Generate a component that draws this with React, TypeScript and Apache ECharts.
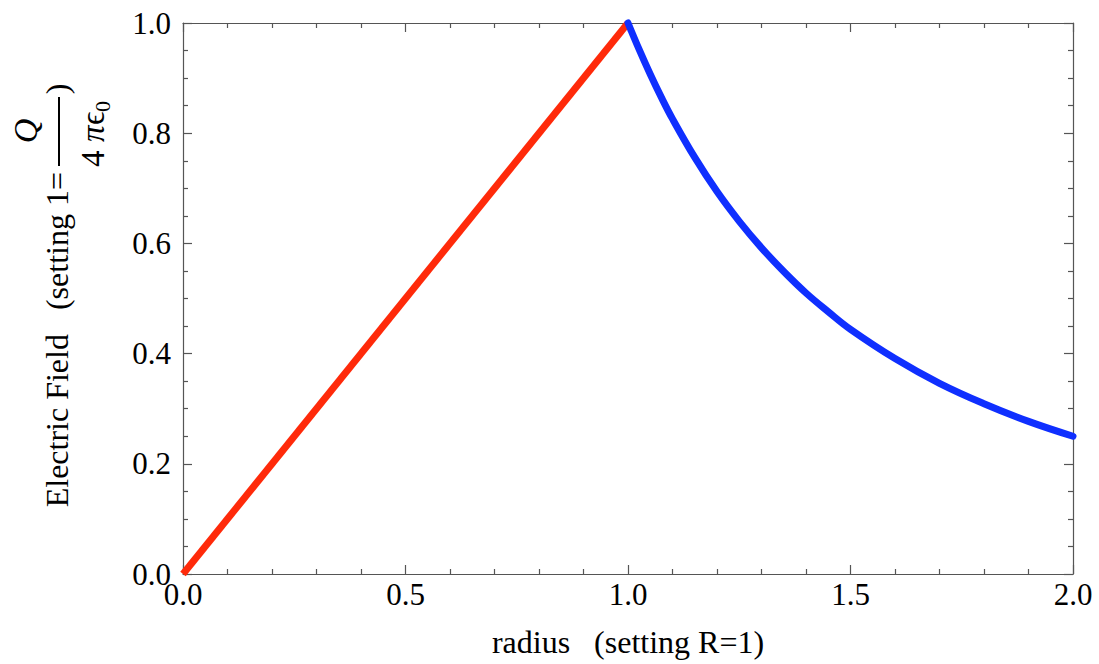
import React, { useEffect, useRef } from "react";
import * as echarts from "echarts";

const xTicks = [0, 0.5, 1.0, 1.5, 2.0];
const yTicks = [0, 0.2, 0.4, 0.6, 0.8, 1.0];
const insidePoints: [number, number][] = [
  [0, 0],
  [1, 1],
];
const outsidePoints: [number, number][] = [
  [1.0, 1.0], [1.025, 0.952], [1.05, 0.907], [1.075, 0.865], [1.1, 0.826],
  [1.15, 0.756], [1.2, 0.694], [1.25, 0.64], [1.3, 0.592], [1.35, 0.549],
  [1.4, 0.51], [1.45, 0.476], [1.5, 0.444], [1.6, 0.391], [1.7, 0.346],
  [1.8, 0.309], [1.9, 0.277], [2.0, 0.25],
];
const xName = "radius\u00a0\u00a0\u00a0(setting R=1)";
const yNameMain = "Electric Field\u00a0\u00a0\u00a0(setting 1=";

const FONT = "'Liberation Serif', 'DejaVu Serif', 'Times New Roman', serif";
const AX = "#555";

export default function App() {
  const ref = useRef<HTMLDivElement>(null);
  useEffect(() => {
    document.body.style.margin = "0";
    const chart = echarts.init(ref.current!, null, { renderer: "svg" });
    const tickFmt = (v: number) => v.toFixed(1);
    const commonX = {
      type: "value" as const,
      min: 0,
      max: 2,
      interval: 0.5,
      axisLine: { show: true, onZero: false, lineStyle: { color: AX, width: 1.2 } },
      axisTick: { show: true, inside: true, length: 9, lineStyle: { color: AX, width: 1.2 } },
      minorTick: { show: true, splitNumber: 5, length: 5, lineStyle: { color: AX, width: 1.2 } },
      splitLine: { show: false },
    };
    const commonY = {
      type: "value" as const,
      min: 0,
      max: 1,
      interval: 0.2,
      axisLine: { show: true, onZero: false, lineStyle: { color: AX, width: 1.2 } },
      axisTick: { show: true, inside: true, length: 9, lineStyle: { color: AX, width: 1.2 } },
      minorTick: { show: true, splitNumber: 4, length: 5, lineStyle: { color: AX, width: 1.2 } },
      splitLine: { show: false },
    };
    const rotText = (text: string, x: number, y: number, font: string, align: string) => ({
      type: "text",
      x,
      y,
      rotation: Math.PI / 2,
      style: { text, font, fill: "#000", textAlign: align, textVerticalAlign: "middle" },
    });
    chart.setOption({
      animation: false,
      backgroundColor: "#fff",
      grid: { left: 183, top: 23, right: 26, bottom: 90, containLabel: false },
      xAxis: [
        {
          ...commonX,
          position: "bottom",
          axisLabel: {
            show: true,
            fontFamily: FONT,
            fontSize: 31,
            color: "#000",
            margin: 5,
            formatter: (v: number) => (xTicks.includes(v) ? tickFmt(v) : ""),
          },
          name: xName,
          nameLocation: "middle",
          nameGap: 52,
          nameTextStyle: { fontFamily: FONT, fontSize: 32, color: "#000" },
        },
        { ...commonX, position: "top", axisLabel: { show: false } },
      ],
      yAxis: [
        {
          ...commonY,
          position: "left",
          axisLabel: {
            show: true,
            fontFamily: FONT,
            fontSize: 31,
            color: "#000",
            margin: 12,
            formatter: (v: number) => (yTicks.some((t) => Math.abs(t - v) < 1e-9) ? tickFmt(v) : ""),
          },
        },
        { ...commonY, position: "right", axisLabel: { show: false } },
      ],
      graphic: [
        rotText(yNameMain, 57, 172, `32px ${FONT}`, "right"),
        {
          type: "line",
          shape: { x1: 59, y1: 166, x2: 59, y2: 97 },
          style: { stroke: "#000", lineWidth: 2 },
        },
        rotText("Q", 25, 131, `italic 34px ${FONT}`, "center"),
        rotText("4\u00a0", 93, 167, `33px ${FONT}`, "left"),
        rotText("π", 93, 142, `italic 33px ${FONT}`, "left"),
        rotText("ϵ", 93, 125, `33px ${FONT}`, "left"),
        rotText("0", 102, 112, `22px ${FONT}`, "left"),
        rotText(")", 57, 89, `32px ${FONT}`, "center"),
      ],
      series: [
        {
          type: "line",
          data: insidePoints,
          showSymbol: false,
          clip: false,
          lineStyle: { color: "#ff2a0a", width: 7, cap: "butt" },
        },
        {
          type: "line",
          data: outsidePoints,
          showSymbol: false,
          smooth: 0.4,
          clip: false,
          lineStyle: { color: "#0f2fff", width: 7, cap: "round" },
        },
      ],
    });
    return () => chart.dispose();
  }, []);
  return <div ref={ref} style={{ width: 1099, height: 664 }} />;
}
